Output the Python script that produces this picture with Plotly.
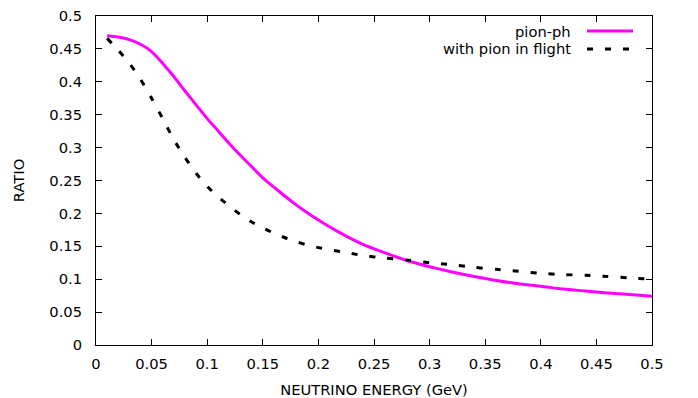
import plotly.graph_objects as go

energy = [0.01, 0.02, 0.03, 0.04, 0.05, 0.06, 0.07, 0.08, 0.09, 0.10,
          0.11, 0.12, 0.13, 0.14, 0.15, 0.16, 0.17, 0.18, 0.19, 0.20,
          0.22, 0.24, 0.26, 0.28, 0.30, 0.32, 0.34, 0.36, 0.38, 0.40,
          0.42, 0.44, 0.46, 0.48, 0.50]

pion_ph = [0.470, 0.468, 0.464, 0.457, 0.446, 0.428, 0.408, 0.386, 0.365, 0.344,
           0.325, 0.306, 0.288, 0.271, 0.254, 0.240, 0.226, 0.213, 0.201, 0.190,
           0.170, 0.153, 0.140, 0.128, 0.119, 0.111, 0.104, 0.098, 0.093, 0.0893,
           0.085, 0.082, 0.079, 0.0767, 0.0742]

pion_flight = [0.466, 0.448, 0.428, 0.404, 0.375, 0.344, 0.312, 0.285, 0.261, 0.241,
               0.225, 0.211, 0.198, 0.187, 0.178, 0.170, 0.163, 0.157, 0.152, 0.148,
               0.142, 0.136, 0.132, 0.129, 0.125, 0.122, 0.118, 0.115, 0.112, 0.109,
               0.107, 0.106, 0.104, 0.102, 0.100]

x_ticks = [0, 0.05, 0.1, 0.15, 0.2, 0.25, 0.3, 0.35, 0.4, 0.45, 0.5]
x_tick_labels = ["0", "0.05", "0.1", "0.15", "0.2", "0.25", "0.3", "0.35", "0.4", "0.45", "0.5"]
y_ticks = [0, 0.05, 0.1, 0.15, 0.2, 0.25, 0.3, 0.35, 0.4, 0.45, 0.5]
y_tick_labels = ["0", "0.05", "0.1", "0.15", "0.2", "0.25", "0.3", "0.35", "0.4", "0.45", "0.5"]

series_names = ["pion-ph", "with pion in flight"]
PINK = "#ff00ff"
FONT = "DejaVu Sans"
FS = 14.7

fig = go.Figure()
fig.add_trace(go.Scatter(x=energy, y=pion_ph, mode="lines", name=series_names[0],
                         line=dict(color=PINK, width=3, shape="spline", smoothing=0.6),
                         showlegend=False))
fig.add_trace(go.Scatter(x=energy, y=pion_flight, mode="lines", name=series_names[1],
                         line=dict(color="black", width=3, dash="6px,12px",
                                   shape="spline", smoothing=0.6),
                         showlegend=False))

# The page body adds an 8px margin, so the figure is 8px smaller than the window.
OFF = 8
W, H = 698 - OFF, 398 - OFF
ml, mr, mt, mb = 96 - OFF, 46, 16 - OFF, 53
pw, ph = W - ml - mr, H - mt - mb

def px(xp):
    return (xp - OFF - ml) / pw

def py(yp):
    return 1 - (yp - OFF - mt) / ph

# Manual gnuplot-style legend (text right-aligned, sample to its right)
legend_rows = [(series_names[0], 31, dict(color=PINK, width=3)),
               (series_names[1], 49, dict(color="black", width=3, dash="6px,12px"))]
for name, yp, ln in legend_rows:
    fig.add_annotation(x=px(573), y=py(yp), xref="paper", yref="paper", text=name,
                       showarrow=False, xanchor="right", yanchor="middle",
                       font=dict(family=FONT, size=FS, color="black"))
    fig.add_shape(type="line", xref="paper", yref="paper",
                  x0=px(587), x1=px(633), y0=py(yp), y1=py(yp), line=ln)

axis_common = dict(showline=True, linecolor="black", linewidth=1, mirror="allticks",
                   ticks="inside", ticklen=6, tickcolor="black", tickwidth=1,
                   showgrid=False, zeroline=False, automargin=False,
                   ticklabeloverflow="allow",
                   tickfont=dict(family=FONT, size=FS, color="black"))

fig.update_xaxes(range=[0, 0.5], tickvals=x_ticks, ticktext=x_tick_labels,
                 title=dict(text="NEUTRINO ENERGY (GeV)", font=dict(family=FONT, size=FS, color="black"),
                            standoff=15),
                 ticklabelstandoff=5, **axis_common)
fig.update_yaxes(range=[0, 0.5], tickvals=y_ticks, ticktext=y_tick_labels,
                 title=dict(text="RATIO", font=dict(family=FONT, size=FS, color="black"),
                            standoff=21),
                 ticklabelstandoff=10, **axis_common)

fig.update_layout(width=W, height=H, margin=dict(l=ml, r=mr, t=mt, b=mb, autoexpand=False),
                  plot_bgcolor="white", paper_bgcolor="white",
                  font=dict(family=FONT, size=FS, color="black"))

fig.write_html("out.html")
